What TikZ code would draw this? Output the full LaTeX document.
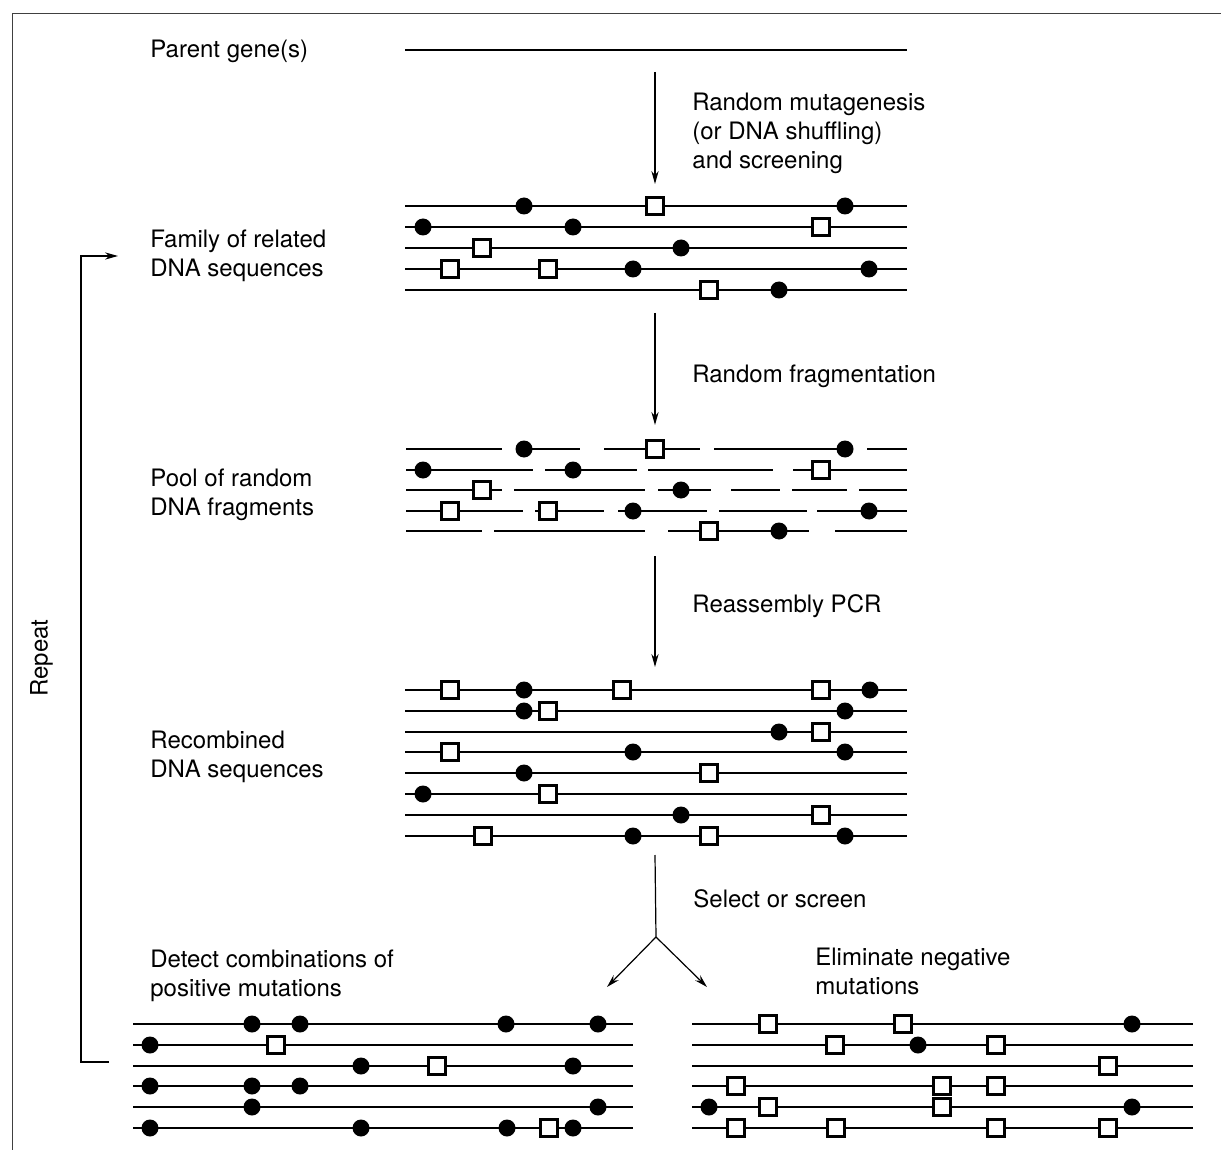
\documentclass[tikz,border=0pt]{standalone}
\usepackage{fontspec}
\setmainfont{TeX Gyre Heros}
\usetikzlibrary{positioning,arrows.meta}

\begin{document}
\begin{tikzpicture}[
x=0.5pt, y=-0.5pt,
font=\fontsize{12}{14.5}\selectfont,
dotnode/.style={circle, fill=black, inner sep=0pt, minimum size=8.5pt},
boxnode/.style={rectangle, draw=black, fill=white, line width=1.25pt, inner sep=0pt, minimum size=8.5pt},
strand/.style={line width=0.9pt},
labelnode/.style={anchor=base west, inner sep=0pt, align=left},
flow/.style={->, >={Stealth[length=6.5pt,width=3.6pt]}, line width=0.6pt}
]
    \useasboundingbox (0,0) rectangle (1221,1150);

    %Frame
    \draw[line width=0.4pt, black!75] (12,1150) -- (12,13) -- (1221,13);

    %Labels (base = last line)
    \node[labelnode] (parent) at (150,58) {Parent gene(s)};
    \node[labelnode] (mutagen) at (692,169) {Random mutagenesis\\(or DNA shuffling)\\and screening};
    \node[labelnode] (family) at (150,277) {Family of related\\DNA sequences};
    \node[labelnode] (fragment) at (692,382) {Random fragmentation};
    \node[labelnode] (pool) at (150,515) {Pool of random\\DNA fragments};
    \node[labelnode] (pcr) at (692,612) {Reassembly PCR};
    \node[labelnode] (recomb) at (150,777) {Recombined\\DNA sequences};
    \node[labelnode] (select) at (693,907) {Select or screen};
    \node[labelnode] (detect) at (150,996) {Detect combinations of\\positive mutations};
    \node[labelnode] (elim) at (815,994) {Eliminate negative\\mutations};
    \node[rotate=90, anchor=base, inner sep=0pt] (repeat) at (47.5,658) {Repeat};

    %Strands
    \draw[strand] (405,50) -- (907,50);
    \foreach \y in {206,227,248,269,290}
        \draw[strand] (405,\y) -- (907,\y);
    \foreach \a/\b/\y in {406/502/449, 520/580/449, 604/700/449, 714/848/449, 867/907/449,
        406/533/470, 545/637/470, 648/773/470, 793/907/470,
        406/502/490, 514/645/490, 658/711/490, 731/780/490, 792/847/490, 859/907/490,
        406/523/511, 535/604/511, 618/707/511, 719/807/511, 817/907/511,
        406/482/531, 494/645/531, 668/809/531, 835/907/531}
        \draw[strand] (\a,\y) -- (\b,\y);
    \foreach \y in {690,711,732,752,773,794,815,836}
        \draw[strand] (405,\y) -- (907,\y);
    \foreach \y in {1024,1045,1066,1086,1107,1128}{
        \draw[strand] (133,\y) -- (633,\y);
        \draw[strand] (692,\y) -- (1193,\y);
    }

    %Mutations
    \foreach \x/\y/\k in {524/206/dotnode, 655/206/boxnode, 845/206/dotnode,
        423/227/dotnode, 573/227/dotnode, 821/227/boxnode,
        482/248/boxnode, 681/248/dotnode,
        450/269/boxnode, 548/269/boxnode, 633/269/dotnode, 869/269/dotnode,
        709/290/boxnode, 779/290/dotnode}
        \node[\k] (fam-\x-\y) at (\x,\y) {};
    \foreach \x/\y/\k in {524/449/dotnode, 655/449/boxnode, 845/449/dotnode,
        423/470/dotnode, 573/470/dotnode, 821/470/boxnode,
        482/490/boxnode, 681/490/dotnode,
        450/511/boxnode, 548/511/boxnode, 633/511/dotnode, 869/511/dotnode,
        709/531/boxnode, 779/531/dotnode}
        \node[\k] (frag-\x-\y) at (\x,\y) {};
    \foreach \x/\y/\k in {450/690/boxnode, 524/690/dotnode, 622/690/boxnode, 821/690/boxnode, 870/690/dotnode,
        524/711/dotnode, 548/711/boxnode, 845/711/dotnode,
        779/732/dotnode, 821/732/boxnode,
        450/752/boxnode, 633/752/dotnode, 845/752/dotnode,
        524/773/dotnode, 709/773/boxnode,
        423/794/dotnode, 548/794/boxnode,
        681/815/dotnode, 821/815/boxnode,
        483/836/boxnode, 633/836/dotnode, 709/836/boxnode, 845/836/dotnode}
        \node[\k] (rec-\x-\y) at (\x,\y) {};
    \foreach \x/\y/\k in {252/1024/dotnode, 300/1024/dotnode, 506/1024/dotnode, 598/1024/dotnode,
        150/1045/dotnode, 276/1045/boxnode,
        361/1066/dotnode, 437/1066/boxnode, 573/1066/dotnode,
        150/1086/dotnode, 252/1086/dotnode, 300/1086/dotnode,
        252/1107/dotnode, 598/1107/dotnode,
        150/1128/dotnode, 361/1128/dotnode, 507/1128/dotnode, 549/1128/boxnode, 573/1128/dotnode}
        \node[\k] (pos-\x-\y) at (\x,\y) {};
    \foreach \x/\y/\k in {768/1024/boxnode, 903/1024/boxnode, 1132/1024/dotnode,
        835/1045/boxnode, 918/1045/dotnode, 996/1045/boxnode,
        1108/1066/boxnode,
        736/1086/boxnode, 942/1086/boxnode, 996/1086/boxnode,
        709/1107/dotnode, 768/1107/boxnode, 942/1107/boxnode, 1132/1107/dotnode,
        736/1128/boxnode, 836/1128/boxnode, 996/1128/boxnode, 1108/1128/boxnode}
        \node[\k] (neg-\x-\y) at (\x,\y) {};

    %Arrows
    \coordinate (a1) at (655,72);   \coordinate (b1) at (655,184);
    \coordinate (a2) at (655,313);  \coordinate (b2) at (655,425);
    \coordinate (a3) at (655,556);  \coordinate (b3) at (655,667);
    \draw[flow] (a1) -- (b1);
    \draw[flow] (a2) -- (b2);
    \draw[flow] (a3) -- (b3);

    \coordinate (a4) at (655,855);  \coordinate (fork) at (656,937);
    \coordinate (left) at (607,987); \coordinate (right) at (707,987);
    \draw[line width=0.6pt] (a4) -- (fork);
    \draw[flow] (fork) -- (left);
    \draw[flow] (fork) -- (right);

    \coordinate (rb) at (109,1062);  \coordinate (rt) at (118,256);
    \draw[flow] (rb) -- ++(-28,0) |- (rt);
\end{tikzpicture}
\end{document}
